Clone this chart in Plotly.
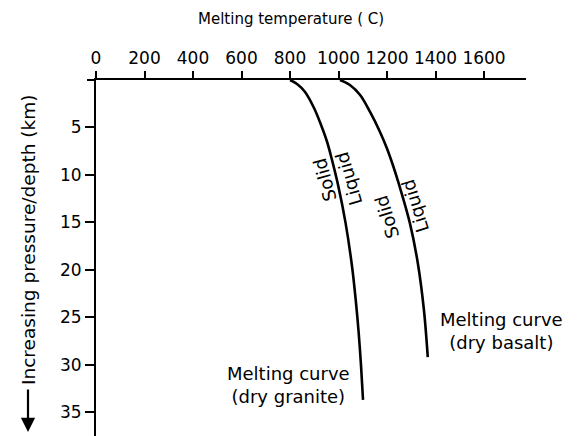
import plotly.graph_objects as go

# ---- data ----
x_ticks = [0, 200, 400, 600, 800, 1000, 1200, 1400, 1600]
y_ticks = [5, 10, 15, 20, 25, 30, 35]

granite_temp = [800, 829, 862, 899, 928, 953, 973, 998, 1029, 1056, 1071, 1083, 1093, 1101]
granite_depth = [0, 0.42, 1.26, 2.95, 4.74, 6.53, 8.42, 11.05, 15.05, 19.7, 23.2, 26.6, 30.2, 33.7]

basalt_temp = [1006, 1047, 1089, 1130, 1171, 1199, 1224, 1250, 1294, 1327, 1352, 1368]
basalt_depth = [0, 0.53, 1.58, 3.37, 5.47, 7.16, 8.95, 11.05, 15.05, 19.3, 24.2, 29.2]

FONT = "DejaVu Sans, Liberation Sans, Arial, sans-serif"

fig = go.Figure()
for xs, ys in [(granite_temp, granite_depth), (basalt_temp, basalt_depth)]:
    fig.add_trace(go.Scatter(x=xs, y=ys, mode="lines", line=dict(color="black", width=2.6, shape="spline"),
                             showlegend=False, hoverinfo="skip"))

annotations = [
    dict(x=944, y=10.5, text="Solid", textangle=-105, font=dict(size=18)),
    dict(x=1043, y=10.4, text="Liquid", textangle=-106, font=dict(size=18)),
    dict(x=1200, y=14.4, text="Solid", textangle=-107, font=dict(size=18)),
    dict(x=1315, y=13.3, text="Liquid", textangle=-107, font=dict(size=18)),
    dict(x=792, y=32.1, text="Melting curve<br>(dry granite)", font=dict(size=18)),
    dict(x=1674, y=26.4, text="Melting curve<br>(dry basalt)", font=dict(size=18)),
]
for a in annotations:
    a.update(xref="x", yref="y", showarrow=False, xanchor="center", yanchor="middle")
    a["font"].update(family=FONT, color="black")

# axis titles and arrow
annotations.append(dict(xref="paper", yref="paper", x=0.453, y=1 + 61 / 356, text="Melting temperature ( C)",
                        showarrow=False, font=dict(family=FONT, size=15, color="black"),
                        xanchor="center", yanchor="middle"))
annotations.append(dict(xref="paper", yref="paper", x=(28 - 96) / 430, y=(436 - 240) / 356,
                        text="Increasing pressure/depth (km)", textangle=-90,
                        showarrow=False, font=dict(family=FONT, size=18.5, color="black"),
                        xanchor="center", yanchor="middle"))
annotations.append(dict(xref="paper", yref="paper", x=(28 - 96) / 430, y=(436 - 432) / 356,
                        axref="pixel", ayref="pixel", ax=0, ay=-44, text="",
                        showarrow=True, arrowhead=2, arrowsize=1.3, arrowwidth=2.2, arrowcolor="black"))
fig.update_layout(annotations=annotations)

fig.add_shape(type="line", xref="paper", yref="paper", x0=-9 / 430, x1=0, y0=1, y1=1,
              line=dict(color="black", width=2))

fig.update_xaxes(range=[0, 1773], side="top", tickvals=x_ticks, ticktext=[str(v) for v in x_ticks],
                 ticks="outside", ticklen=7, tickwidth=1.5, tickcolor="black",
                 showline=True, linecolor="black", linewidth=2, showgrid=False, zeroline=False,
                 tickfont=dict(family=FONT, size=17, color="black"))
fig.update_yaxes(range=[37.5, 0], tickvals=y_ticks, ticktext=[str(v) for v in y_ticks],
                 ticks="outside", ticklen=9, tickwidth=1.5, tickcolor="black",
                 showline=True, linecolor="black", linewidth=2, showgrid=False, zeroline=False,
                 tickfont=dict(family=FONT, size=17, color="black"))

# page body has an 8px default margin, so the figure's margins are reduced by 8px
fig.update_layout(width=578, height=436, margin=dict(l=88, r=60, t=72, b=8),
                  paper_bgcolor="white", plot_bgcolor="white")

fig.write_html("out.html")
